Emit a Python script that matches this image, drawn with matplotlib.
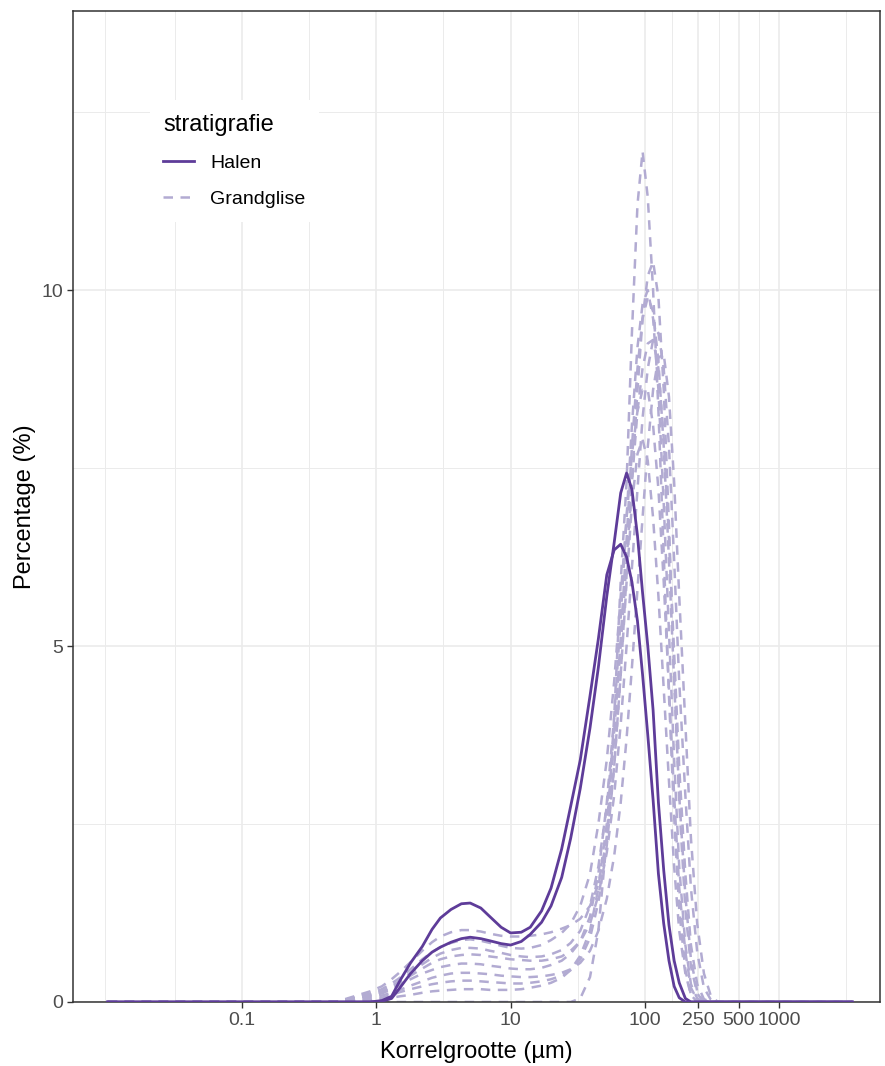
import numpy as np
import matplotlib.pyplot as plt
from matplotlib.lines import Line2D

plt.rcParams['font.family'] = ['Liberation Sans', 'DejaVu Sans']

# korrelgrootte (µm) waarop de verdelingen zijn uitgelezen
grootte = [0.01, 0.5, 0.9, 1.1, 1.3, 1.5, 1.8, 2.2, 2.6, 3.0, 3.6, 4.3, 5.0, 6.0, 7.0, 8.5,
           10, 12, 14, 17, 20, 24, 28, 33, 39, 45, 52, 59, 66, 73, 80, 88, 96, 105, 115,
           126, 138, 151, 165, 180, 200, 220, 245, 275, 310, 350, 1000, 3500]

# Halen - percentage per korrelgrootte
halen_1 = [0, 0, 0, 0.02, 0.08, 0.30, 0.55, 0.78, 1.02, 1.18, 1.30, 1.38, 1.39, 1.32, 1.20, 1.05,
           0.97, 0.98, 1.05, 1.28, 1.60, 2.15, 2.75, 3.40, 4.30, 5.10, 6.00, 6.35, 6.43, 6.25, 5.90,
           5.35, 4.60, 3.75, 2.84, 1.80, 1.10, 0.58, 0.22, 0.06, 0, 0, 0, 0, 0, 0, 0, 0]
halen_2 = [0, 0, 0, 0.01, 0.05, 0.20, 0.40, 0.58, 0.70, 0.77, 0.84, 0.89, 0.91, 0.89, 0.86, 0.82,
           0.80, 0.85, 0.95, 1.12, 1.35, 1.75, 2.30, 3.00, 3.85, 4.70, 5.70, 6.45, 7.15, 7.43, 7.20,
           6.55, 5.75, 5.00, 4.10, 2.80, 1.85, 1.08, 0.58, 0.27, 0.05, 0, 0, 0, 0, 0, 0, 0]

# Grandglise - percentage per korrelgrootte
grand_1 = [0, 0, 0, 0, 0, 0, 0, 0, 0, 0, 0, 0, 0, 0, 0, 0,
           0, 0, 0, 0, 0, 0, 0, 0.05, 0.35, 1.00, 2.30, 4.00, 5.90, 7.30, 9.40,
           11.20, 11.95, 11.30, 10.00, 8.30, 6.30, 4.30, 2.60, 1.30, 0.45, 0.10, 0, 0, 0, 0, 0, 0]
grand_2 = [0, 0, 0.03, 0.06, 0.10, 0.14, 0.18, 0.22, 0.25, 0.27, 0.29, 0.30, 0.30, 0.29, 0.28, 0.27,
           0.26, 0.26, 0.27, 0.29, 0.32, 0.37, 0.45, 0.60, 0.90, 1.40, 2.20, 3.30, 4.60, 6.00, 7.30,
           8.60, 9.60, 10.20, 10.40, 9.90, 8.60, 6.70, 4.60, 2.80, 1.30, 0.50, 0.12, 0, 0, 0, 0, 0]
grand_3 = [0, 0, 0.08, 0.12, 0.18, 0.24, 0.32, 0.40, 0.45, 0.49, 0.52, 0.54, 0.54, 0.53, 0.51, 0.49,
           0.47, 0.46, 0.46, 0.48, 0.52, 0.58, 0.68, 0.85, 1.20, 1.80, 2.80, 4.00, 5.40, 6.80, 8.10,
           9.20, 9.80, 10.00, 9.60, 8.60, 7.00, 5.20, 3.40, 1.90, 0.80, 0.25, 0.05, 0, 0, 0, 0, 0]
grand_4 = [0, 0, 0.10, 0.14, 0.20, 0.27, 0.37, 0.47, 0.55, 0.60, 0.64, 0.66, 0.67, 0.66, 0.64, 0.62,
           0.60, 0.59, 0.58, 0.58, 0.60, 0.64, 0.72, 0.85, 1.10, 1.50, 2.10, 2.90, 3.90, 5.00, 6.10,
           7.20, 8.20, 8.90, 9.30, 9.40, 8.90, 7.80, 6.20, 4.50, 2.90, 1.60, 0.70, 0.20, 0.03, 0, 0, 0]
grand_5 = [0, 0, 0.12, 0.18, 0.26, 0.34, 0.46, 0.60, 0.70, 0.77, 0.83, 0.87, 0.88, 0.86, 0.83, 0.79,
           0.76, 0.75, 0.76, 0.80, 0.87, 0.97, 1.10, 1.35, 1.80, 2.50, 3.40, 4.50, 5.70, 6.80, 7.70,
           8.30, 8.60, 8.60, 8.10, 7.20, 5.90, 4.40, 2.90, 1.60, 0.70, 0.20, 0.03, 0, 0, 0, 0, 0]
grand_6 = [0, 0, 0.02, 0.04, 0.06, 0.08, 0.10, 0.13, 0.15, 0.16, 0.17, 0.18, 0.18, 0.18, 0.17, 0.17,
           0.17, 0.18, 0.20, 0.23, 0.27, 0.34, 0.45, 0.65, 1.00, 1.60, 2.50, 3.70, 5.10, 6.50, 7.80,
           8.90, 9.60, 9.90, 9.70, 9.00, 7.80, 6.20, 4.50, 2.90, 1.50, 0.60, 0.15, 0.02, 0, 0, 0, 0]
grand_7 = [0, 0, 0.15, 0.22, 0.32, 0.42, 0.56, 0.72, 0.84, 0.92, 0.98, 1.01, 1.01, 0.99, 0.96, 0.93,
           0.92, 0.92, 0.93, 0.95, 0.98, 1.03, 1.08, 1.17, 1.35, 1.65, 2.30, 3.30, 4.60, 5.90, 7.00,
           7.70, 7.90, 7.60, 6.80, 5.70, 4.40, 3.10, 1.90, 1.00, 0.40, 0.10, 0, 0, 0, 0, 0, 0]
grand_8 = [0, 0, 0.06, 0.09, 0.13, 0.17, 0.23, 0.29, 0.34, 0.37, 0.40, 0.41, 0.41, 0.40, 0.39, 0.37,
           0.36, 0.35, 0.35, 0.36, 0.38, 0.41, 0.46, 0.55, 0.72, 1.00, 1.45, 2.05, 2.80, 3.70, 4.70,
           5.80, 6.80, 7.80, 8.60, 9.05, 9.10, 8.50, 7.30, 5.70, 3.90, 2.30, 1.10, 0.40, 0.08, 0, 0, 0]
grand_9 = [0, 0, 0.10, 0.15, 0.22, 0.30, 0.41, 0.53, 0.62, 0.68, 0.73, 0.76, 0.76, 0.75, 0.72, 0.69,
           0.66, 0.64, 0.63, 0.64, 0.67, 0.73, 0.83, 1.00, 1.35, 1.90, 2.75, 3.80, 5.00, 6.20, 7.30,
           8.30, 8.90, 9.25, 9.30, 8.90, 7.90, 6.50, 4.90, 3.30, 1.80, 0.80, 0.25, 0.04, 0, 0, 0, 0]

halen = [halen_1, halen_2]
grandglise = [grand_1, grand_2, grand_3, grand_4, grand_5, grand_6, grand_7, grand_8, grand_9]

x_breaks = [0.1, 1, 10, 100, 250, 500, 1000]
x_labels = ['0.1', '1', '10', '100', '250', '500', '1000']
x_minor = [0.0095, 0.0316, 0.316, 3.16, 31.6, 158, 354, 707, 3162]

kleur_halen = '#5E3C99'
kleur_grand = '#B2ABD2'

fig = plt.figure(figsize=(8.85, 10.66), dpi=100)
ax = fig.add_axes([73 / 885, 64 / 1066, 807 / 885, 991 / 1066])

for y in grandglise:
    ax.plot(grootte, y, color=kleur_grand, lw=1.8, dashes=(3.8, 3.0), zorder=2)
for y in halen:
    ax.plot(grootte, y, color=kleur_halen, lw=2.0, zorder=3)

ax.set_xscale('log')
ax.set_xlim(10 ** -2.258, 10 ** 3.75)
ax.set_ylim(0, 13.92)
ax.set_xticks(x_breaks)
ax.set_xticklabels(x_labels)
ax.set_xticks(x_minor, minor=True)
ax.set_yticks([0, 5, 10])
ax.set_yticklabels(['0', '5', '10'])
ax.set_yticks([2.5, 7.5, 12.5], minor=True)

# theme_bw-achtige opmaak
ax.set_axisbelow(True)
ax.grid(which='major', color='#EBEBEB', lw=1.2)
ax.grid(which='minor', color='#EBEBEB', lw=0.7)
for s in ax.spines.values():
    s.set_color('#333333')
    s.set_linewidth(1.1)
ax.tick_params(which='major', length=4, width=1.0, color='#333333',
               labelcolor='#4D4D4D', labelsize=14, pad=3)
ax.tick_params(which='minor', length=0)

ax.set_xlabel('Korrelgrootte (µm)', fontsize=17, labelpad=9)
ax.set_ylabel('Percentage (%)', fontsize=17, labelpad=4)

handles = [Line2D([], [], color=kleur_halen, lw=2.0),
           Line2D([], [], color=kleur_grand, lw=1.8, dashes=(3.8, 3.0))]
leg = ax.legend(handles, ['Halen', 'Grandglise'], title='stratigrafie',
                loc='upper left', bbox_to_anchor=(0.095, 0.910), borderaxespad=0,
                frameon=True, facecolor='white', edgecolor='none', framealpha=1,
                fancybox=False, fontsize=14, title_fontsize=17, alignment='left',
                handlelength=1.6, handletextpad=0.8, labelspacing=0.95, borderpad=0.7)

fig.savefig('out.png', dpi=100)
